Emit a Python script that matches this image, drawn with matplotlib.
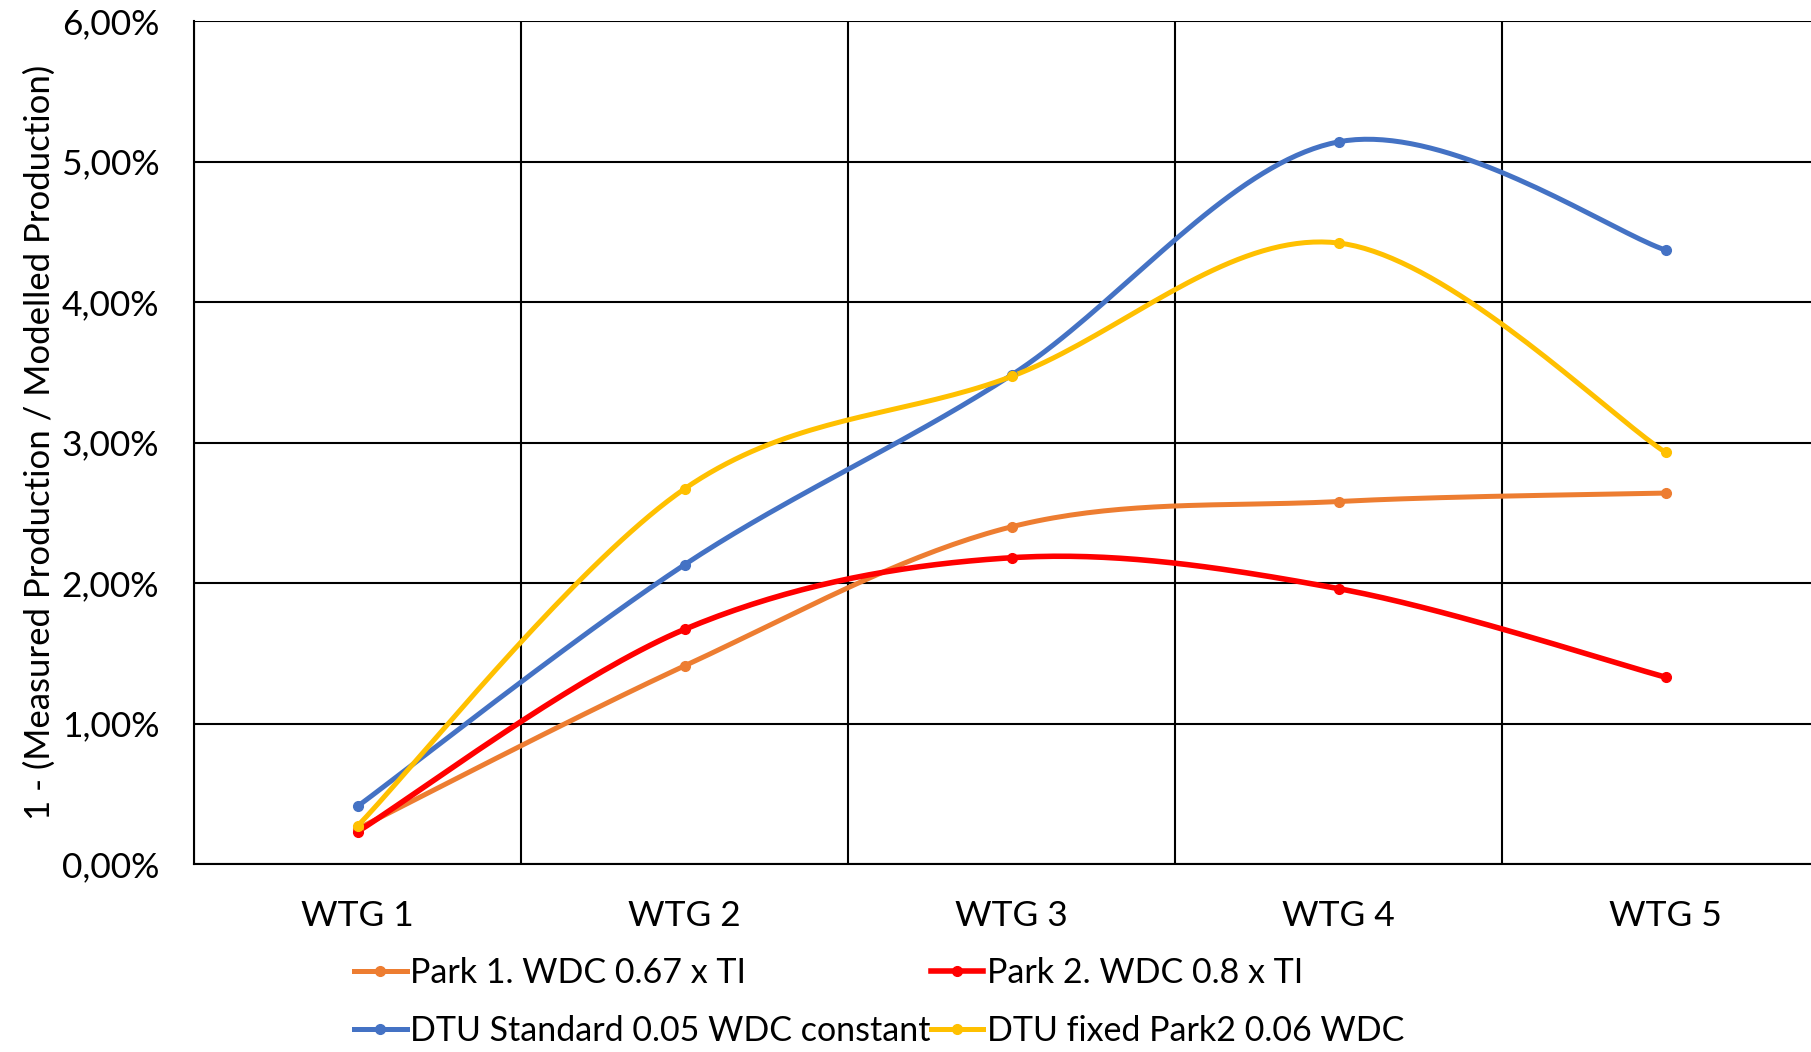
import numpy as np
import matplotlib
matplotlib.use("Agg")
import matplotlib.pyplot as plt
from matplotlib.ticker import FuncFormatter, FixedLocator

plt.rcParams["font.family"] = ["Lato", "DejaVu Sans"]

turbines = ["WTG 1", "WTG 2", "WTG 3", "WTG 4", "WTG 5"]

park1_067 = [0.25, 1.41, 2.40, 2.58, 2.64]
park2_08 = [0.23, 1.67, 2.18, 1.96, 1.33]
dtu_standard = [0.41, 2.13, 3.48, 5.14, 4.37]
dtu_fixed = [0.27, 2.67, 3.47, 4.42, 2.93]

series = [
    ("Park 1. WDC 0.67 x TI", park1_067, "#ED7D31", 3.6),
    ("DTU Standard 0.05 WDC constant", dtu_standard, "#4472C4", 3.6),
    ("Park 2. WDC 0.8 x TI", park2_08, "#FF0000", 4.0),
    ("DTU fixed Park2 0.06 WDC", dtu_fixed, "#FFC000", 3.6),
]


def smooth(xs, ys, n=40):
    # spreadsheet-style smoothed line: cubic bezier through each point
    xs = np.asarray(xs, float)
    ys = np.asarray(ys, float)
    px = np.concatenate([[xs[0]], xs, [xs[-1]]])
    py = np.concatenate([[ys[0]], ys, [ys[-1]]])
    out_x, out_y = [], []
    t = np.linspace(0, 1, n)
    for i in range(len(xs) - 1):
        p0 = np.array([px[i + 1], py[i + 1]])
        p3 = np.array([px[i + 2], py[i + 2]])
        c1 = p0 + (np.array([px[i + 2], py[i + 2]]) - np.array([px[i], py[i]])) / 6
        c2 = p3 - (np.array([px[i + 3], py[i + 3]]) - np.array([px[i + 1], py[i + 1]])) / 6
        b = ((1 - t) ** 3)[:, None] * p0 + (3 * (1 - t) ** 2 * t)[:, None] * c1 \
            + (3 * (1 - t) * t ** 2)[:, None] * c2 + (t ** 3)[:, None] * p3
        out_x.extend(b[:, 0])
        out_y.extend(b[:, 1])
    return out_x, out_y


fig = plt.figure(figsize=(18.11, 10.52), dpi=100)
ax = fig.add_axes([194 / 1811, 1 - 864 / 1052, (1829 - 194) / 1811, (864 - 21) / 1052])

x = np.arange(len(turbines))
handles = []
for label, vals, color, lw in series:
    sx, sy = smooth(x, vals)
    ax.plot(sx, sy, color=color, lw=lw, solid_capstyle="round", zorder=3)
    ax.plot(x, vals, "o", color=color, ms=7, zorder=4)
    h, = ax.plot([], [], color=color, lw=lw, marker="o", ms=7)
    handles.append(h)

ax.set_xlim(-0.5, 4.5)
ax.set_ylim(0, 6)
ax.set_xticks(x)
ax.set_xticklabels(turbines)
ax.xaxis.set_minor_locator(FixedLocator(np.arange(-0.5, 5, 1)))
ax.set_yticks(np.arange(0, 7, 1))
ax.yaxis.set_major_formatter(FuncFormatter(lambda v, p: f"{v:.2f}%".replace(".", ",")))
ax.grid(which="minor", axis="x", color="black", lw=1.5)
ax.grid(which="major", axis="y", color="black", lw=1.5)
ax.tick_params(which="both", length=0)
ax.tick_params(axis="y", pad=25, labelsize=25.5)
ax.tick_params(axis="x", pad=26, labelsize=25.5)
for side in ["top", "right"]:
    ax.spines[side].set_visible(False)
for side in ["left", "bottom"]:
    ax.spines[side].set_linewidth(1.5)
    ax.spines[side].set_color("black")

ax.set_ylabel("1 - (Measured Production / Modelled Production)", fontsize=25, labelpad=4)

fig.legend(handles, [s[0] for s in series], ncol=2, frameon=False, fontsize=24.5,
           loc="center left", bbox_to_anchor=(354 / 1811, 1 - 1002 / 1052),
           handlelength=1.55, handletextpad=0.1, columnspacing=0.0,
           labelspacing=0.78, borderpad=0, borderaxespad=0)

fig.savefig("out.png", dpi=100)
